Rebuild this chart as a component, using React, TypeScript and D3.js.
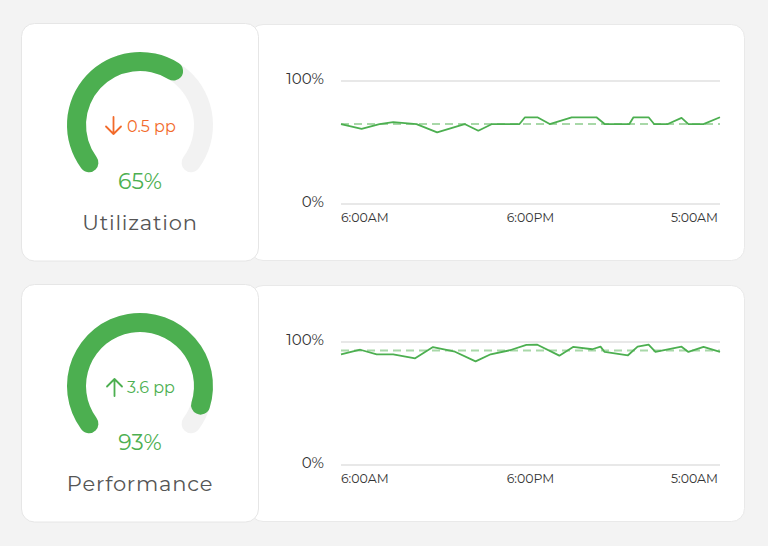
import React from "react";
import * as d3 from "d3";

// ---- data ----
const metricNames = ["Utilization", "Performance"];
const gaugeValues = [65, 93];
const deltaValues = [-0.5, 3.6];
const averageValues = [65, 93];
const yTickLabels = ["100%", "0%"];
const timeLabels = ["6:00AM", "6:00PM", "5:00AM"];

// minutes since 6:00AM
const utilMinutes = [0, 75, 140, 190, 275, 350, 450, 500, 550, 650, 670, 715, 760, 840, 930, 960, 1050, 1065, 1120, 1140, 1190, 1240, 1265, 1320, 1380];
const utilValues = [65, 61, 65, 66.5, 65, 58.3, 65, 59.6, 65, 65, 70.5, 70.5, 65, 70.5, 70.5, 65, 65, 70.5, 70.5, 65, 65, 70, 65, 65, 70.5];

const perfMinutes = [0, 70, 130, 190, 270, 335, 415, 490, 545, 615, 675, 715, 795, 845, 915, 945, 960, 1045, 1080, 1120, 1145, 1240, 1265, 1320, 1380];
const perfValues = [90, 93.7, 90, 90, 86.7, 95.9, 92.1, 84.3, 90, 93.3, 97.6, 97.8, 88.9, 96, 94.1, 96.2, 91.9, 89.2, 96.2, 97.8, 91.9, 96.2, 91.9, 96, 92];

const seriesMinutes = [utilMinutes, perfMinutes];
const seriesValues = [utilValues, perfValues];

const GREEN = "#4caf50";
const ORANGE = "#f26a2a";
const FONT = "Montserrat, 'Open Sans', sans-serif";

function Row({ idx, top }: { idx: number; top: number }) {
  const value = gaugeValues[idx];
  const delta = deltaValues[idx];
  const cx = 140;
  const cy = top + 101;
  const rMid = 63.5;
  const thick = 19;
  const startA = (-135 * Math.PI) / 180;
  const endA = (135 * Math.PI) / 180;
  const angle = d3.scaleLinear().domain([0, 100]).range([startA, endA]);
  const arc = d3
    .arc<any>()
    .innerRadius(rMid - thick / 2)
    .outerRadius(rMid + thick / 2)
    .cornerRadius(thick / 2);
  const trackPath = arc({ startAngle: startA, endAngle: endA }) as string;
  const valuePath = arc({ startAngle: startA, endAngle: angle(value) }) as string;

  const x = d3.scaleLinear().domain([0, 1380]).range([341, 720]);
  const y = d3.scaleLinear().domain([0, 100]).range([top + 180, top + 57]);
  const mins = seriesMinutes[idx];
  const vals = seriesValues[idx];
  const line = d3
    .line<number>()
    .x((_, i) => x(mins[i]))
    .y((v) => y(v));
  const avg = averageValues[idx];

  const deltaColor = delta < 0 ? ORANGE : GREEN;
  const arrowX = delta < 0 ? 113.5 : 114.5;
  const ay = top + 102;
  const arrowPath =
    delta < 0
      ? `M${arrowX},${ay - 9} L${arrowX},${ay + 8} M${arrowX - 7.5},${ay + 0.5} L${arrowX},${ay + 8} L${arrowX + 7.5},${ay + 0.5}`
      : `M${arrowX},${ay + 9} L${arrowX},${ay - 8} M${arrowX - 7.5},${ay - 0.5} L${arrowX},${ay - 8} L${arrowX + 7.5},${ay - 0.5}`;

  const domainMid = (x.domain()[0] + x.domain()[1]) / 2;
  const tickPos = [x.domain()[0], domainMid, x.domain()[1]];
  const anchors = ["start", "middle", "end"];

  return (
    <g>
      {/* right card */}
      <rect x={250} y={top + 0.5} width={494.5} height={236} rx={13} fill="#fff" stroke="#e9e9e9" />
      {/* left card */}
      <rect x={21.5} y={top - 0.5} width={237} height={237.5} rx={13} fill="#fff" stroke="#e6e6e6" />

      {/* gauge */}
      <g transform={`translate(${cx},${cy})`}>
        <path d={trackPath} fill="#f2f2f2" />
        <path d={valuePath} fill={GREEN} />
      </g>
      <path d={arrowPath} fill="none" stroke={deltaColor} strokeWidth={1.8} strokeLinecap="round" strokeLinejoin="round" />
      <text x={127} y={top + 107.5} fontSize={16} fill={deltaColor} fontFamily={FONT}>
        {`${Math.abs(delta)} pp`}
      </text>
      <text x={cx} y={top + 165} fontSize={22} fill={GREEN} textAnchor="middle" fontFamily={FONT}>
        {`${value}%`}
      </text>
      <text x={cx} y={top + 206} fontSize={21} fill="#555" textAnchor="middle" fontFamily={FONT} letterSpacing={0.8}>
        {metricNames[idx]}
      </text>

      {/* chart */}
      {[100, 0].map((t, i) => (
        <g key={t}>
          <line x1={341} x2={720} y1={y(t)} y2={y(t)} stroke="#e8e8e8" strokeWidth={2} />
          <text x={324} y={y(t) + 3} fontSize={15} fill="#333" textAnchor="end" fontFamily={FONT}>
            {yTickLabels[i]}
          </text>
        </g>
      ))}
      <line x1={341} x2={720} y1={y(avg)} y2={y(avg)} stroke="#a8d8a8" strokeWidth={2} strokeDasharray="8 5" />
      <path d={line(vals) as string} fill="none" stroke={GREEN} strokeWidth={1.8} strokeLinejoin="round" />
      {timeLabels.map((l, i) => (
        <text key={l} x={x(tickPos[i]) + (i === 2 ? -2 : 0)} y={top + 198} fontSize={12.5} fill="#333" textAnchor={anchors[i] as any} fontFamily={FONT}>
          {l}
        </text>
      ))}
    </g>
  );
}

export default function App() {
  return (
    <svg
      width={768}
      height={546}
      style={{ position: "absolute", left: 0, top: 0, display: "block" }}
    >
      <rect x={0} y={0} width={768} height={546} fill="#f3f3f3" />
      <Row idx={0} top={24} />
      <Row idx={1} top={285} />
    </svg>
  );
}
